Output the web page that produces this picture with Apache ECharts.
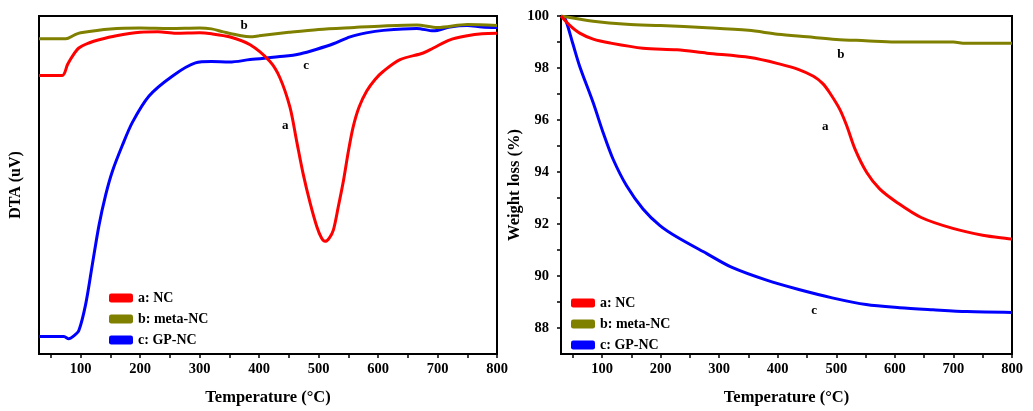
<!DOCTYPE html>
<html>
<head>
<meta charset="utf-8">
<script src="https://cdn.jsdelivr.net/npm/echarts@6/dist/echarts.min.js"></script>
<style>
  html, body { margin: 0; padding: 0; background: #fff; }
  #chart { width: 1033px; height: 411px; }
</style>
</head>
<body>
<div id="chart"></div>
<script>
// Series names and colours
const seriesNames = ['a: NC', 'b: meta-NC', 'c: GP-NC'];
const seriesColors = ['#ff0000', '#808000', '#0000ff'];

// DTA curves, [temperature °C, signal (arbitrary µV)]
const dtaNC = [[30,28.1],[69,28.1],[78,29.2],[86,30.03],[97,30.87],[115,31.4],[131,31.7],[160,32.1],[200,32.45],[230,32.5],[260,32.35],[300,32.4],[320,32.3],[350,32.0],[385,31.2],[418,29.53],[435,27.87],[452,24.87],[463,21.53],[474,18.2],[486,15.2],[497,12.87],[505,11.7],[511,11.37],[518,11.7],[525,12.53],[533,14.8],[542,17.53],[550,20.4],[558,22.87],[568,24.9],[581,26.53],[595,27.7],[609,28.53],[637,29.7],[676,30.37],[693,30.87],[721,31.7],[750,32.1],[775,32.3],[800,32.35]];
const dtaMeta = [[30,31.8],[75,31.8],[90,32.2],[100,32.4],[150,32.8],[200,32.9],[250,32.85],[300,32.9],[320,32.8],[340,32.5],[370,32.1],[385,32.0],[400,32.1],[450,32.45],[500,32.75],[560,32.95],[609,33.1],[665,33.2],[700,32.95],[750,33.25],[800,33.15]];
const dtaGP = [[30,1.77],[72,1.77],[80,1.53],[88,1.8],[97,2.37],[108.5,5.03],[119.7,9.03],[131,13.03],[142,16.03],[153,18.37],[170,21.03],[187,23.37],[215,26.03],[254,28.03],[293,29.37],[320,29.5],[350,29.45],[385,29.7],[441,30.03],[470,30.3],[497,30.75],[525,31.3],[553,32.0],[580,32.4],[609,32.65],[665,32.85],[693,32.6],[721,33.0],[750,33.15],[775,33.0],[800,32.95]];

// TG curves, [temperature °C, weight %]
const tgNC = [[30,100],[45,99.64],[62,99.34],[85,99.11],[114,98.96],[170,98.76],[228,98.7],[279,98.57],[353,98.4],[404,98.15],[435,97.95],[461,97.68],[477,97.4],[489,97.04],[506,96.41],[518,95.77],[532,94.88],[552,93.98],[574,93.35],[603,92.84],[645,92.25],[699,91.83],[750,91.57],[800,91.42]];
const tgMeta = [[30,100],[85,99.8],[142,99.68],[200,99.63],[279,99.55],[350,99.45],[400,99.3],[450,99.2],[500,99.1],[550,99.05],[600,99.0],[700,99.0],[720,98.95],[800,98.95]];
const tgGP = [[30,100],[37,99.9],[50,98.95],[62,98.06],[85,96.66],[102,95.51],[119,94.49],[142,93.47],[170,92.58],[199,91.94],[228,91.5],[279,90.86],[322,90.33],[381,89.84],[436,89.48],[493,89.16],[551,88.9],[608,88.78],[665,88.7],[723,88.63],[800,88.6]];

// Tick values
const xLabelTicks = [100, 200, 300, 400, 500, 600, 700, 800];
const xMinorTicks = [50, 100, 150, 200, 250, 300, 350, 400, 450, 500, 550, 600, 650, 700, 750, 800];
const tgLabelTicks = [88, 90, 92, 94, 96, 98, 100];
const tgTicks = [88, 89, 90, 91, 92, 93, 94, 95, 96, 97, 98, 99, 100];

// Curve labels: [text, temperature, value]
const dtaNotes = [['b', 375, 33.1], ['c', 479, 29.1], ['a', 444, 23.0]];
const tgNotes = [['b', 508, 98.5], ['a', 481, 95.76], ['c', 462, 88.66]];

const FONT = '"Liberation Serif", "Times New Roman", serif';

function xAxisCfg(gridIndex) {
  return {
    gridIndex: gridIndex, type: 'value', min: 30, max: 800,
    name: 'Temperature (°C)', nameLocation: 'middle', nameGap: 35,
    nameTextStyle: { fontFamily: FONT, fontWeight: 'bold', fontSize: 16.5, color: '#000' },
    axisLine: { onZero: false, lineStyle: { color: '#000', width: 2 } },
    axisTick: { show: true, inside: false, length: 4, customValues: xMinorTicks, lineStyle: { color: '#000', width: 1.5 } },
    axisLabel: { customValues: xLabelTicks, fontFamily: FONT, fontWeight: 'bold', fontSize: 14.5, color: '#000', margin: 8 },
    splitLine: { show: false }
  };
}

function notesToMarks(notes) {
  return {
    symbol: 'circle', symbolSize: 0, silent: true,
    label: { show: true, position: 'inside', fontFamily: FONT, fontWeight: 'bold', fontSize: 13, color: '#000',
             formatter: p => p.name },
    data: notes.map(n => ({ name: n[0], coord: [n[1], n[2]] }))
  };
}

function lineSeries(name, data, idx, axisIdx, note) {
  const s = {
    name: name, type: 'line', data: data,
    xAxisIndex: axisIdx, yAxisIndex: axisIdx,
    showSymbol: false, smooth: 0.3,
    lineStyle: { color: seriesColors[idx], width: 3 },
    itemStyle: { color: seriesColors[idx] },
    z: 3 - idx
  };
  if (note) s.markPoint = notesToMarks([note]);
  return s;
}

const legendBase = {
  orient: 'vertical', icon: 'roundRect', itemWidth: 24, itemHeight: 9, itemGap: 7,
  textStyle: { fontFamily: FONT, fontWeight: 'bold', fontSize: 14, color: '#000', padding: [0, 0, 0, 0] },
  data: seriesNames
};

const chart = echarts.init(document.getElementById('chart'), null, { renderer: 'canvas' });
chart.setOption({
  backgroundColor: '#fff',
  animation: false,
  grid: [
    { left: 39, top: 16, width: 458, height: 341, show: true, borderColor: '#000', borderWidth: 2, backgroundColor: 'transparent' },
    { left: 561, top: 16, width: 451, height: 340, show: true, borderColor: '#000', borderWidth: 2, backgroundColor: 'transparent' }
  ],
  legend: [
    Object.assign({}, legendBase, { left: 104, top: 286 }),
    Object.assign({}, legendBase, { left: 566, top: 291 })
  ],
  xAxis: [xAxisCfg(0), xAxisCfg(1)],
  yAxis: [
    {
      gridIndex: 0, type: 'value', min: 0, max: 34.1,
      name: 'DTA (uV)', nameLocation: 'middle', nameGap: 15,
      nameTextStyle: { fontFamily: FONT, fontWeight: 'bold', fontSize: 16, color: '#000' },
      axisLine: { onZero: false, lineStyle: { color: '#000', width: 2 } },
      axisTick: { show: false }, axisLabel: { show: false }, splitLine: { show: false }
    },
    {
      gridIndex: 1, type: 'value', min: 87, max: 100,
      name: 'Weight loss (%)', nameLocation: 'middle', nameGap: 38,
      nameTextStyle: { fontFamily: FONT, fontWeight: 'bold', fontSize: 16.5, color: '#000' },
      axisLine: { onZero: false, lineStyle: { color: '#000', width: 2 } },
      axisTick: { show: true, inside: false, length: 4, customValues: tgTicks, lineStyle: { color: '#000', width: 1.5 } },
      axisLabel: { customValues: tgLabelTicks, fontFamily: FONT, fontWeight: 'bold', fontSize: 14.5, color: '#000', margin: 12 },
      splitLine: { show: false }
    }
  ],
  series: [
    lineSeries(seriesNames[0], dtaNC, 0, 0, dtaNotes[2]),
    lineSeries(seriesNames[1], dtaMeta, 1, 0, dtaNotes[0]),
    lineSeries(seriesNames[2], dtaGP, 2, 0, dtaNotes[1]),
    lineSeries(seriesNames[0], tgNC, 0, 1, tgNotes[1]),
    lineSeries(seriesNames[1], tgMeta, 1, 1, tgNotes[0]),
    lineSeries(seriesNames[2], tgGP, 2, 1, tgNotes[2])
  ]
});
</script>
</body>
</html>
